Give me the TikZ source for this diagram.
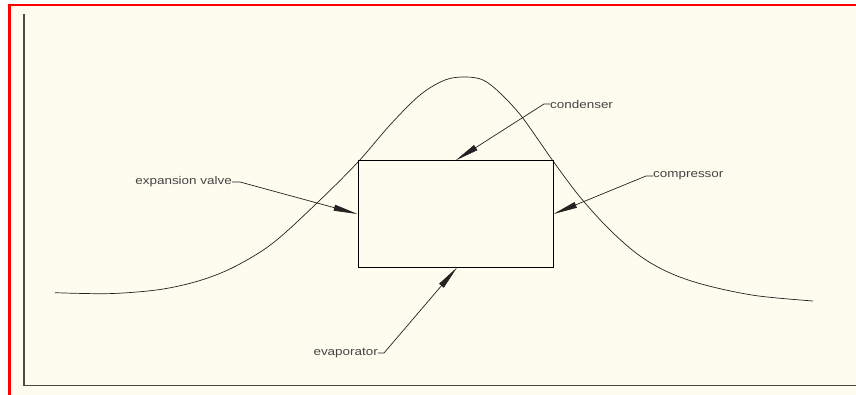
\documentclass[tikz,border=0pt]{standalone}
\usepackage{fontspec}
\usetikzlibrary{arrows.meta,calc}
\newfontfamily\lblfont[FakeStretch=1.2]{Liberation Sans}
\definecolor{cream}{HTML}{FEFBEF}
\definecolor{ink}{HTML}{222222}
\definecolor{txt}{HTML}{444444}
\definecolor{frameline}{HTML}{4A4844}
\tikzset{
  lbl/.style={font=\lblfont\fontsize{11.2}{13}\selectfont, text=txt, inner sep=0pt},
  lead/.style={draw=ink, line width=0.7pt, -{Triangle[length=24pt,width=6pt]}},
  boxst/.style={draw=black, line width=1pt, inner sep=0pt, minimum width=195pt, minimum height=106pt},
  curvest/.style={draw=ink, line width=0.7pt}
}
\begin{document}
\begin{tikzpicture}[x=1pt,y=-1pt]
\useasboundingbox (0,0) rectangle (856,395);
\fill[white] (0,0) rectangle (856,395);
\fill[cream] (8,4) rectangle (856,395);
\draw[red, line width=2.4pt] (9.3,395) -- (9.3,5) -- (856,5);
\draw[frameline, line width=1.3pt] (24,14) -- (24,385.3) -- (856,385.3);
% curve
\draw[curvest] plot[smooth, tension=0.55] coordinates {
 (55,292.7) (110,293.6) (160,289.5) (200,280.5) (235,266.5)
 (273,243) (317,203) (358,162)
 (390,125) (420,95) (445,80) (465,77) (483,80) (500,93) (522,117)
 (553,161) (580,197) (610,230) (640,256) (670,273) (705,285) (755,295.5)
 (813,301)};
% box
\node[boxst] (box) at (455.5,214) {};
% labels
\node[lbl, anchor=east] (ex) at (232,182) {expansion valve};
\node[lbl, anchor=west] (cd) at (550,104) {condenser};
\node[lbl, anchor=west] (cp) at (653,176) {compressor};
\node[lbl, anchor=east] (ev) at (378,353) {evaporator};
% leaders
\draw[lead] (ex.east) -- ++(8,0) -- (box.west);
\draw[lead] (cd.west) -- ++(-6,0) -- (box.north);
\draw[lead] (cp.west) -- ++(-7,0) -- (box.east);
\draw[lead] (ev.east) -- ++(6,0) -- ($(box.south)+(1.5,0)$);
\end{tikzpicture}
\end{document}
